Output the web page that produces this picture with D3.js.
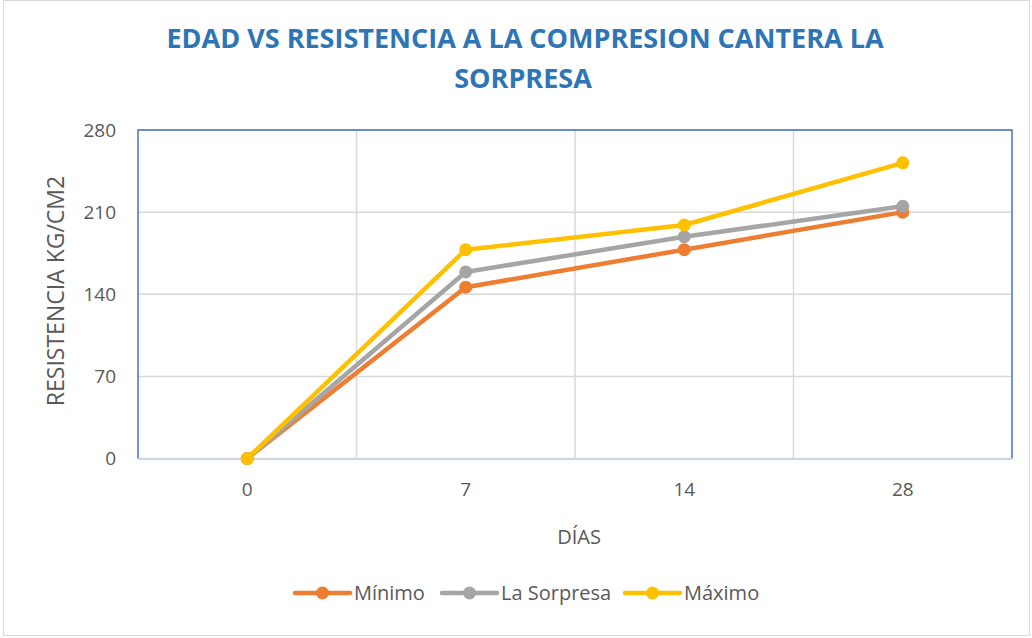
<!DOCTYPE html>
<html>
<head>
<meta charset="utf-8">
<script src="https://cdn.jsdelivr.net/npm/d3@7"></script>
<style>
  body { margin: 0; background: #fff; }
  svg { display: block; font-family: "Open Sans", sans-serif; }
</style>
</head>
<body>
<div id="chart"></div>
<script>
// data
var days = ["0", "7", "14", "28"];
var minimo = [0, 146, 178, 210];
var sorpresa = [0, 159, 189, 215];
var maximo = [0, 178, 199, 252];
var yTicks = [0, 70, 140, 210, 280];

var series = [
	{ name: "Mínimo", values: minimo, color: "#ED7D31" },
	{ name: "La Sorpresa", values: sorpresa, color: "#A5A5A5" },
	{ name: "Máximo", values: maximo, color: "#FFC000" }
];

var width = 1032, height = 638;
var plot = { left: 138, top: 130, right: 1012, bottom: 458.5 };

var svg = d3.select("#chart").append("svg")
	.attr("width", width)
	.attr("height", height);

// outer frame
svg.append("rect")
	.attr("x", 3.5).attr("y", 0.5)
	.attr("width", width - 6).attr("height", height - 3)
	.attr("fill", "#fff")
	.attr("stroke", "#D9D9D9");

// title
var title = svg.append("text")
	.attr("text-anchor", "middle")
	.attr("fill", "#2E75B6")
	.attr("font-weight", "bold")
	.attr("font-size", 27);
title.append("tspan").attr("x", 525).attr("y", 48).text("EDAD VS RESISTENCIA A LA COMPRESION CANTERA LA");
title.append("tspan").attr("x", 523).attr("y", 88).text("SORPRESA");

// scales
var x = d3.scaleBand()
	.domain(days)
	.range([plot.left, plot.right]);

var y = d3.scaleLinear()
	.domain([0, 280])
	.range([plot.bottom, plot.top]);

// grid
var grid = svg.append("g").attr("class", "grid");
grid.selectAll(".hgrid")
	.data(yTicks)
	.enter()
	.append("line")
	.attr("x1", plot.left).attr("x2", plot.right)
	.attr("y1", function(d) { return y(d); })
	.attr("y2", function(d) { return y(d); })
	.attr("stroke", "#D9D9D9")
	.attr("stroke-width", 1.5);

grid.selectAll(".vgrid")
	.data(days.slice(1))
	.enter()
	.append("line")
	.attr("x1", function(d) { return x(d); })
	.attr("x2", function(d) { return x(d); })
	.attr("y1", plot.top).attr("y2", plot.bottom)
	.attr("stroke", "#D9D9D9")
	.attr("stroke-width", 1.5);

// plot border (blue on left, top, right)
svg.append("path")
	.attr("d", "M" + plot.left + "," + plot.bottom + "V" + plot.top + "H" + plot.right + "V" + plot.bottom)
	.attr("fill", "none")
	.attr("stroke", "#4472C4")
	.attr("stroke-width", 1.5);

// axes
var xAxis = svg.append("g")
	.attr("transform", "translate(0," + plot.bottom + ")")
	.call(d3.axisBottom(x).tickSize(0).tickPadding(24));
xAxis.select(".domain").attr("stroke", "#CFD5E0").attr("stroke-width", 2);

var yAxis = svg.append("g")
	.attr("transform", "translate(" + plot.left + ",0)")
	.call(d3.axisLeft(y).tickValues(yTicks).tickSize(0).tickPadding(22));
yAxis.select(".domain").remove();

svg.selectAll(".tick text")
	.attr("font-family", "'Open Sans', sans-serif")
	.attr("font-size", 19)
	.attr("fill", "#595959");

// axis titles
svg.append("text")
	.attr("x", 579).attr("y", 544)
	.attr("text-anchor", "middle")
	.attr("font-size", 20)
	.attr("fill", "#595959")
	.text("DÍAS");

svg.append("text")
	.attr("transform", "translate(64,291) rotate(-90)")
	.attr("text-anchor", "middle")
	.attr("font-size", 23)
	.attr("fill", "#595959")
	.text("RESISTENCIA KG/CM2");

// lines
var line = d3.line()
	.x(function(d, i) { return x(days[i]) + x.bandwidth() / 2; })
	.y(function(d) { return y(d); });

var lines = svg.append("g").attr("class", "lines");
series.forEach(function(s) {
	var g = lines.append("g");
	g.append("path")
		.attr("d", line(s.values))
		.attr("fill", "none")
		.attr("stroke", s.color)
		.attr("stroke-width", 4.5)
		.attr("stroke-linejoin", "round")
		.attr("stroke-linecap", "round");
	g.selectAll("circle")
		.data(s.values)
		.enter()
		.append("circle")
		.attr("cx", function(d, i) { return x(days[i]) + x.bandwidth() / 2; })
		.attr("cy", function(d) { return y(d); })
		.attr("r", 6.5)
		.attr("fill", s.color);
});

// legend
var legendX = [295, 442, 625];
var legend = svg.append("g").attr("class", "legend");
series.forEach(function(s, i) {
	var g = legend.append("g").attr("transform", "translate(" + legendX[i] + ",593)");
	g.append("line")
		.attr("x1", 0).attr("x2", 55)
		.attr("stroke", s.color)
		.attr("stroke-width", 4.5)
		.attr("stroke-linecap", "round");
	g.append("circle")
		.attr("cx", 27.5).attr("r", 6.5)
		.attr("fill", s.color);
	g.append("text")
		.attr("x", 59).attr("y", 7)
		.attr("font-size", 20)
		.attr("fill", "#595959")
		.text(s.name);
});
</script>
</body>
</html>
